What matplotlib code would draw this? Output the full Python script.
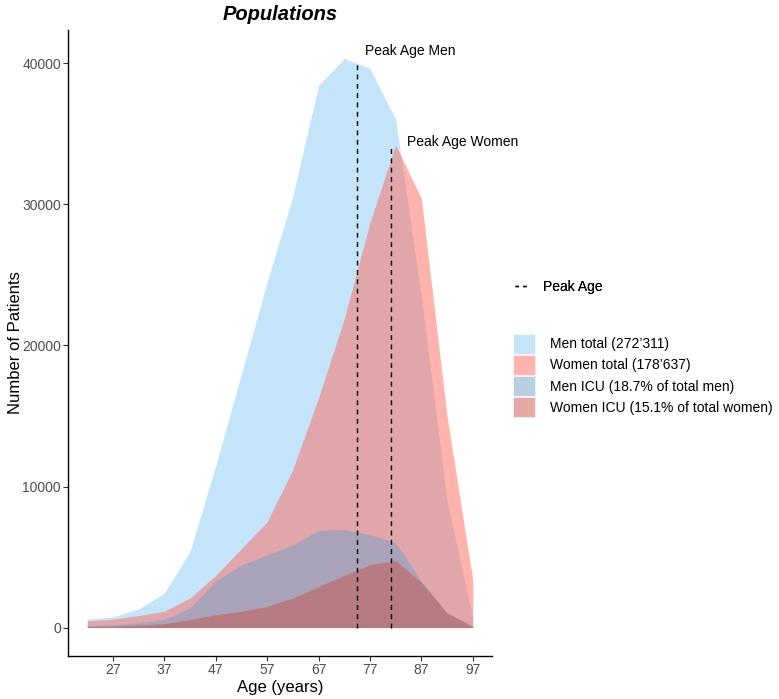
import numpy as np
import matplotlib
matplotlib.use("Agg")
import matplotlib.pyplot as plt
from matplotlib.patches import Patch
from matplotlib.lines import Line2D

plt.rcParams['font.family'] = ['Liberation Sans', 'DejaVu Sans']

# data (5-year age groups)
ages = [22, 27, 32, 37, 42, 47, 52, 57, 62, 67, 72, 77, 82, 87, 92, 97]
men_total = [600, 760, 1330, 2450, 5400, 11500, 18000, 24500, 30600, 38450,
             40350, 39650, 36050, 23500, 9000, 700]
women_total = [470, 600, 850, 1150, 2100, 3700, 5600, 7500, 11200, 16300,
               21900, 28700, 34200, 30450, 15000, 3400]
men_icu = [150, 200, 350, 570, 1400, 3300, 4450, 5150, 5850, 6900,
           6950, 6600, 6000, 3300, 1000, 100]
women_icu = [70, 100, 170, 280, 570, 920, 1150, 1500, 2100, 2900,
             3700, 4460, 4750, 3200, 1050, 80]

peak_age_men = 74.5
peak_n_men = 40000
peak_age_women = 81.1
peak_n_women = 34100

labels = ["Men total (272\u2019311)", "Women total (178\u2019637)",
          "Men ICU (18.7% of total men)", "Women ICU (15.1% of total women)"]
cols = ["#8BCBF7", "#FF695A", "#71A1C7", "#C7554D"]
alpha = 0.5

fig = plt.figure(figsize=(7.79, 6.99), dpi=100)
ax = fig.add_axes([68 / 779, 1 - 656 / 699, (492 - 68) / 779, (656 - 30) / 699])

for vals, c in zip([men_total, women_total, men_icu, women_icu], cols):
    ax.fill_between(ages, 0, vals, color=c, alpha=alpha, linewidth=0)

dash = (0, (3.5, 3.2))
ax.plot([peak_age_men, peak_age_men], [0, peak_n_men], color="black", lw=1.0, ls=dash)
ax.plot([peak_age_women, peak_age_women], [0, peak_n_women], color="black", lw=1.0, ls=dash)
ax.text(peak_age_men + 1.5, peak_n_men + 850, "Peak Age Men", fontsize=10,
        ha="left", va="center", color="black")
ax.text(peak_age_women + 3.1, peak_n_women + 320, "Peak Age Women", fontsize=10,
        ha="left", va="center", color="black")

ax.set_xlim(18.25, 100.75)
ax.set_ylim(-2017, 42367)
ax.set_xticks(np.arange(27, 98, 10))
ax.set_yticks([0, 10000, 20000, 30000, 40000])
ax.tick_params(axis="both", labelsize=10, labelcolor="#4D4D4D", color="#333333",
               length=3.5, width=0.8, pad=1.5)
for s in ["top", "right"]:
    ax.spines[s].set_visible(False)
for s in ["left", "bottom"]:
    ax.spines[s].set_linewidth(1.0)
    ax.spines[s].set_color("black")

ax.set_xlabel("Age (years)", fontsize=12, labelpad=2)
ax.set_ylabel("Number of Patients", fontsize=12)
ax.yaxis.set_label_coords(-0.105, 0.5)
ax.set_title("Populations", fontsize=14.5, fontweight="bold", fontstyle="italic", pad=7)

leg1 = fig.legend(handles=[Line2D([0], [0], color="black", lw=1.0, ls=(0, (2.5, 3)))],
                  labels=["Peak Age"], loc="center left",
                  bbox_to_anchor=(515 / 779, 1 - 287 / 699), frameon=False,
                  fontsize=10, handlelength=1.1, handletextpad=0.95,
                  borderpad=0, borderaxespad=0)
handles = [Patch(facecolor=c, alpha=alpha, edgecolor="white", linewidth=0.8) for c in cols]
leg2 = fig.legend(handles=handles, labels=labels, loc="center left",
                  bbox_to_anchor=(513 / 779, 1 - 375.5 / 699), frameon=False,
                  fontsize=10, handlelength=1.55, handleheight=1.85,
                  handletextpad=1.15, labelspacing=0.07,
                  borderpad=0, borderaxespad=0)
fig.add_artist(leg1)

fig.savefig("out.png", dpi=100)
